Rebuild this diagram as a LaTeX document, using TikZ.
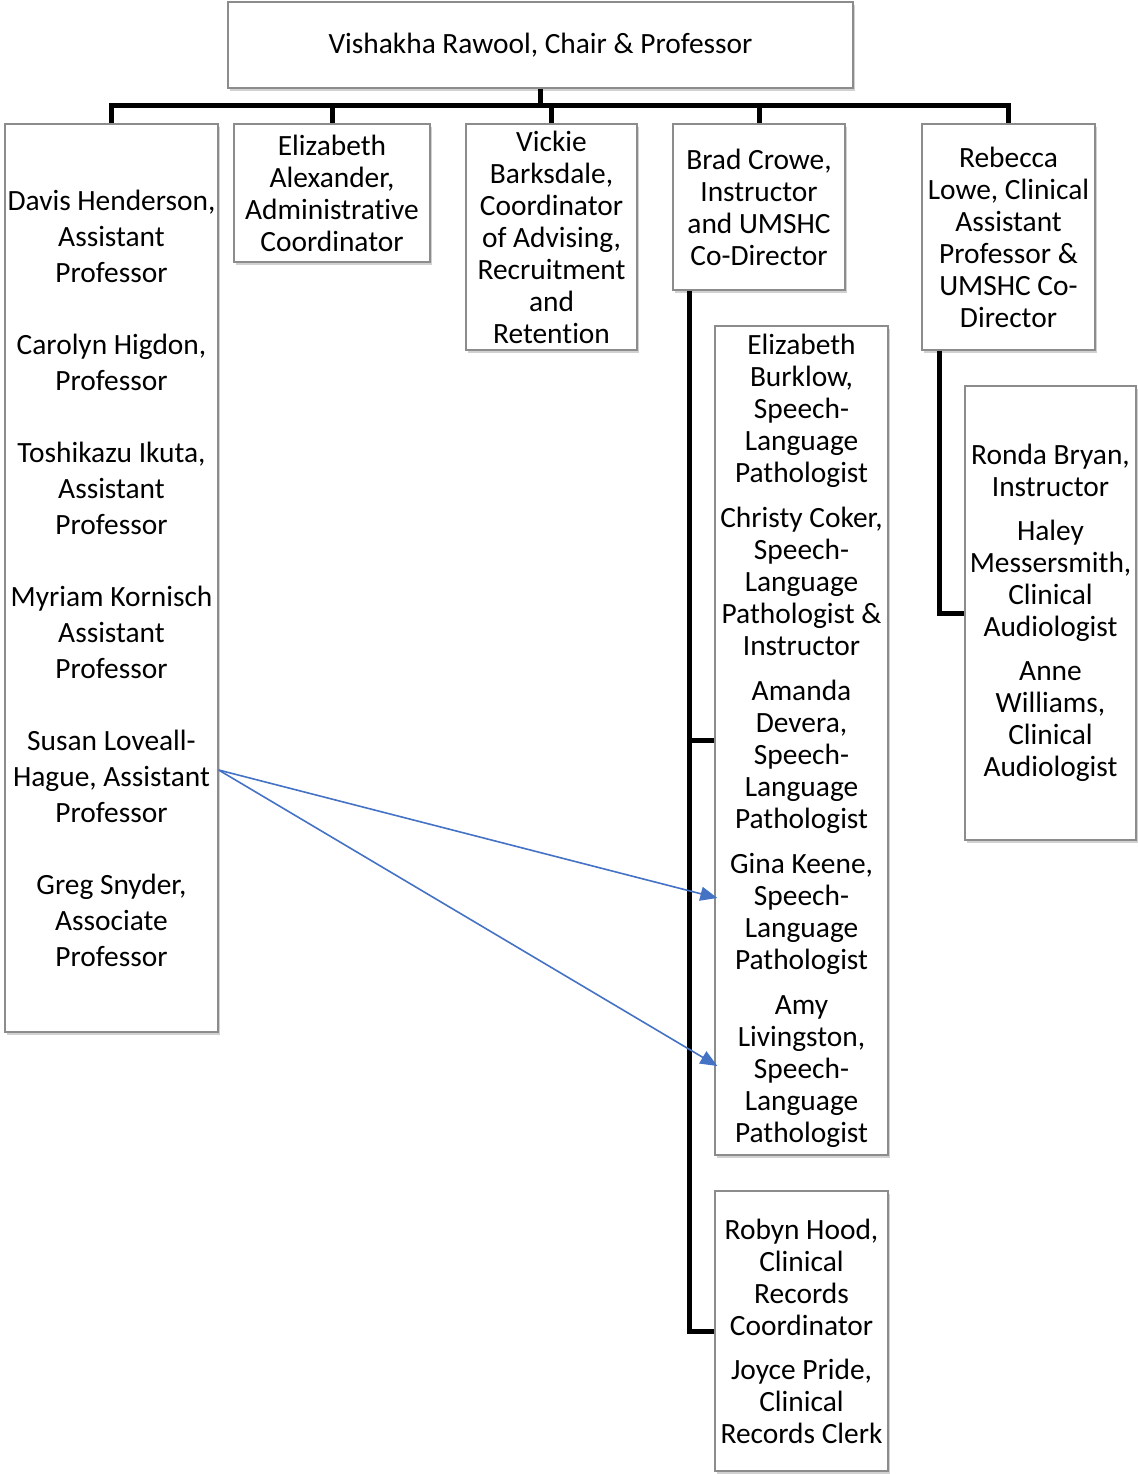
\documentclass[tikz,border=0pt]{standalone}
\usepackage{fontspec}
\setmainfont[Ligatures=NoCommon]{Carlito}
\usetikzlibrary{shadows,arrows.meta,calc}
\definecolor{boxline}{HTML}{8C8C8C}
\definecolor{arrowblue}{HTML}{4472C4}
\begin{document}
\begin{tikzpicture}[x=1pt,y=-1pt,
  orgbox/.style={draw=boxline, line width=1.3pt, fill=white, inner sep=0pt, align=center,
    font=\fontsize{29.4}{32}\selectfont,
    drop shadow={shadow xshift=1.5pt, shadow yshift=-3pt, fill=black, opacity=0.18}},
  conn/.style={draw=black, line width=5pt},
  link/.style={draw=arrowblue, line width=1.6pt, -{Triangle[length=17pt,width=14pt]}}]
\useasboundingbox (0,0) rectangle (1137,1474);

\node[orgbox, minimum width=625pt, minimum height=86pt] (top) at (540.5,45) {Vishakha Rawool, Chair \& Professor};

\node[orgbox, minimum width=213pt, minimum height=908pt, font=\fontsize{29.4}{36}\selectfont] (A) at (111.5,578)
 {Davis Henderson,\\Assistant\\Professor\\[36pt]
  Carolyn Higdon,\\Professor\\[36pt]
  Toshikazu Ikuta,\\Assistant\\Professor\\[36pt]
  Myriam Kornisch\\Assistant\\Professor\\[36pt]
  Susan Loveall-\\Hague, Assistant\\Professor\\[36pt]
  Greg Snyder,\\Associate\\Professor};

\node[orgbox, minimum width=196pt, minimum height=138pt] (B) at (332,193)
 {Elizabeth\\Alexander,\\Administrative\\Coordinator};

\node[orgbox, minimum width=171pt, minimum height=226pt] (C) at (551.5,237)
 {Vickie\\Barksdale,\\Coordinator\\of Advising,\\Recruitment\\and\\Retention};

\node[orgbox, minimum width=172pt, minimum height=166pt] (D) at (759,207)
 {Brad Crowe,\\Instructor\\and UMSHC\\Co-Director};

\node[orgbox, minimum width=173pt, minimum height=226pt] (E) at (1008.5,237)
 {Rebecca\\Lowe, Clinical\\Assistant\\Professor \&\\UMSHC Co-\\Director};

\node[orgbox, minimum width=173pt, minimum height=829pt] (F) at (801.5,740.5)
 {Elizabeth\\Burklow,\\Speech-\\Language\\Pathologist\\[13pt]
  Christy Coker,\\Speech-\\Language\\Pathologist \&\\Instructor\\[13pt]
  Amanda\\Devera,\\Speech-\\Language\\Pathologist\\[13pt]
  Gina Keene,\\Speech-\\Language\\Pathologist\\[13pt]
  Amy\\Livingston,\\Speech-\\Language\\Pathologist};

\node[orgbox, minimum width=173pt, minimum height=280pt] (G) at (801.5,1331)
 {Robyn Hood,\\Clinical\\Records\\Coordinator\\[12pt]
  Joyce Pride,\\Clinical\\Records Clerk};

\node[orgbox, minimum width=171pt, minimum height=454pt] (H) at (1050.5,613)
 {Ronda Bryan,\\Instructor\\[12pt]
  Haley\\Messersmith,\\Clinical\\Audiologist\\[12pt]
  Anne\\Williams,\\Clinical\\Audiologist};

% connectors
\draw[conn] (top.south) -- ++(0,17) coordinate (bus);
\draw[conn] (bus) -| (A.north);
\draw[conn] (bus) -| (B.north);
\draw[conn] (bus) -| (C.north);
\draw[conn] (bus) -| (D.north);
\draw[conn] (bus) -| (E.north);

\coordinate (dleg) at ($(D.south west)+(17,0)$);
\draw[conn] (dleg) |- (F.west);
\draw[conn] (dleg) |- (G.west);

\coordinate (eleg) at ($(E.south west)+(18,0)$);
\draw[conn] (eleg) |- (H.west);

% blue arrows
\coordinate (src) at (A.east |- 0,770);
\coordinate (t1) at ($(F.west |- 0,898)+(3,0)$);
\coordinate (t2) at ($(F.west |- 0,1066)+(3,0)$);
\draw[link] (src) -- (t1);
\draw[link] (src) -- (t2);
\end{tikzpicture}
\end{document}
